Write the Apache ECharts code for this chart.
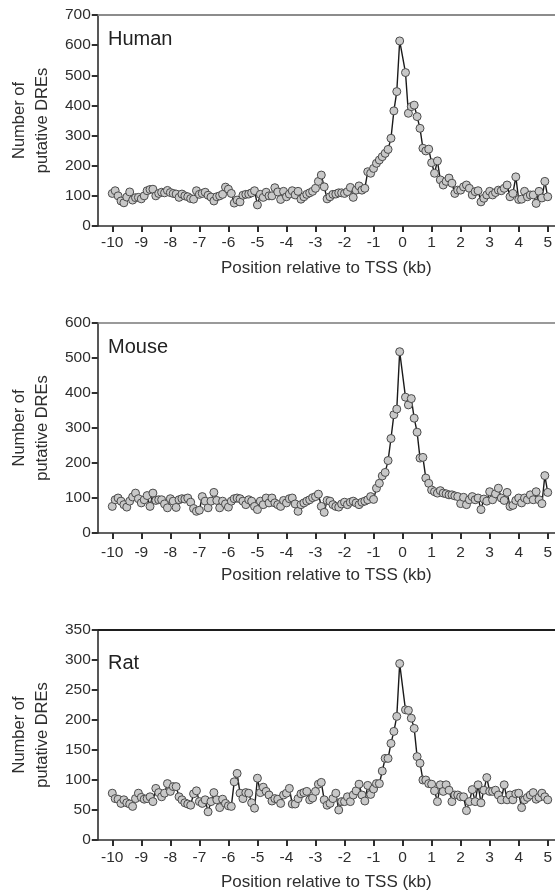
<!DOCTYPE html>
<html>
<head>
<meta charset="utf-8">
<script src="https://cdn.jsdelivr.net/npm/echarts@6.0.0/dist/echarts.min.js"></script>
<style>
html,body{margin:0;padding:0;background:#fff;}
#main{width:555px;height:894px;}
</style>
</head>
<body>
<div id="main"></div>
<script>
// tick labels (kb) under every panel
var xTicks=[-10,-9,-8,-7,-6,-5,-4,-3,-2,-1,0,1,2,3,4,5];
var panelNames=['Human','Mouse','Rat'];
var yMax=[700,600,350];
var yStep=[100,100,50];

// upstream bins -10.0 .. -0.1 kb (100 values)
var humanUp=[108,117,100,83,77,96,113,86,94,95,
  90,100,117,121,122,100,108,112,110,118,
  111,108,106,95,106,100,97,91,89,117,
  105,108,112,102,96,83,97,100,105,129,
  122,108,76,86,80,102,105,106,110,117,
  70,105,95,112,100,100,127,113,88,115,
  97,106,117,103,115,89,97,105,110,115,
  125,148,169,130,90,97,105,106,110,110,
  108,114,128,95,119,133,119,125,180,175,
  191,208,219,230,241,254,291,382,446,614];
// downstream bins 0.1 .. 5.0 kb (50 values)
var humanDown=[509,374,396,401,363,324,258,249,255,210,
  175,216,153,136,148,159,142,108,119,119,
  130,136,125,103,114,117,80,92,103,115,
  103,111,119,117,125,136,97,108,163,88,
  89,115,97,103,103,75,115,93,148,97];

var mouseUp=[76,95,100,91,81,74,91,103,114,98,
  86,95,107,76,114,93,95,95,83,72,
  98,91,73,95,98,97,100,88,70,62,
  65,104,91,72,91,116,93,72,91,83,
  74,91,98,100,98,91,81,95,91,76,
  67,91,81,100,86,100,86,81,76,93,
  86,98,100,83,62,81,86,91,95,101,
  104,111,76,59,93,91,81,76,74,83,
  88,81,88,91,86,81,88,91,95,104,
  96,128,142,163,173,207,270,338,354,518];
var mouseDown=[388,366,384,328,288,214,216,157,142,123,
  118,114,121,114,112,109,109,106,104,84,
  102,81,95,104,95,100,67,97,91,118,
  95,112,128,100,93,116,76,79,93,100,
  86,100,95,109,95,118,95,84,164,116];

var ratUp=[78,69,68,61,67,62,60,56,69,78,
  71,68,69,72,64,86,79,72,78,94,
  81,89,89,72,67,62,60,58,77,82,
  64,61,67,47,64,79,67,54,68,61,
  57,56,97,111,78,69,79,78,62,53,
  103,79,88,81,75,65,69,68,61,75,
  78,86,60,60,69,77,79,81,67,70,
  81,93,96,67,58,61,69,78,50,64,
  64,72,64,75,82,93,75,65,91,76,
  85,94,94,115,136,136,161,181,206,294];
var ratDown=[217,216,203,186,139,128,100,100,94,93,
  82,64,92,81,92,83,64,75,75,72,
  72,49,64,84,64,92,62,83,104,81,
  81,83,75,67,92,67,75,67,77,78,
  54,67,71,75,79,68,71,78,72,67];

var chart=echarts.init(document.getElementById('main'));

// bin positions: no bin at 0
var xPos=[];
for(var i=0;i<100;i++) xPos.push(Math.round((-10+i*0.1)*10)/10);
for(var j=1;j<=50;j++) xPos.push(Math.round(j)/10);

function pairs(up,down){
  var vals=up.concat(down);
  return vals.map(function(v,k){return [xPos[k],v];});
}
var seriesData=[pairs(humanUp,humanDown),pairs(mouseUp,mouseDown),pairs(ratUp,ratDown)];

// layout
var font='"Liberation Sans", Arial, sans-serif';
var gridTop=[15,323,630];
var gridH=[211,210,210];
var labelMargin=[9,12,10];
var topLine=[{color:'#8c8c8c',width:2},{color:'#7a7a7a',width:1.5},{color:'#1e1e1e',width:2}];
var nameY=[39,347,663];
var axisCol='#2e2e2e';

var grids=[],xAxes=[],yAxes=[],series=[],texts=[];
for(var p=0;p<3;p++){
  grids.push({left:93,right:0,top:gridTop[p],height:gridH[p]});
  xAxes.push({type:'value',gridIndex:p,position:'bottom',min:-10.5,max:5.25,
    axisLine:{show:true,onZero:false,lineStyle:{color:axisCol,width:1.6}},
    axisTick:{show:true,customValues:xTicks,length:6,lineStyle:{color:axisCol,width:2}},
    axisLabel:{customValues:xTicks,margin:labelMargin[p],color:axisCol,fontSize:15.5,fontFamily:font},
    splitLine:{show:false},
    name:'Position relative to TSS (kb)',nameLocation:'middle',nameGap:34,
    nameTextStyle:{color:axisCol,fontSize:17,fontFamily:font}});
  xAxes.push({type:'value',gridIndex:p,position:'top',min:-10.5,max:5.25,
    axisLine:{show:true,onZero:false,lineStyle:topLine[p]},
    axisTick:{show:false},axisLabel:{show:false},splitLine:{show:false}});
  yAxes.push({type:'value',gridIndex:p,min:0,max:yMax[p],interval:yStep[p],
    axisLine:{show:true,onZero:false,lineStyle:{color:axisCol,width:1.6}},
    axisTick:{show:true,length:6,lineStyle:{color:axisCol,width:2}},
    axisLabel:{margin:7,color:axisCol,fontSize:15.5,fontFamily:font},
    splitLine:{show:false},
    name:'Number of\nputative DREs',nameLocation:'middle',nameRotate:90,nameGap:39,
    nameTextStyle:{color:axisCol,fontSize:16.5,lineHeight:23,fontFamily:font}});
  series.push({type:'line',xAxisIndex:p*2,yAxisIndex:p,data:seriesData[p],
    symbol:'circle',symbolSize:8,showAllSymbol:true,
    lineStyle:{color:'#1a1a1a',width:1.4},
    itemStyle:{color:'#c8c8c8',borderColor:'#4a4a4a',borderWidth:1}});
  texts.push({type:'text',x:108,y:nameY[p],
    style:{text:panelNames[p],fontSize:20,fontFamily:font,fill:'#222',verticalAlign:'middle'}});
}

chart.setOption({
  animation:false,
  grid:grids,
  xAxis:xAxes,
  yAxis:yAxes,
  series:series,
  graphic:texts
});
</script>
</body>
</html>
